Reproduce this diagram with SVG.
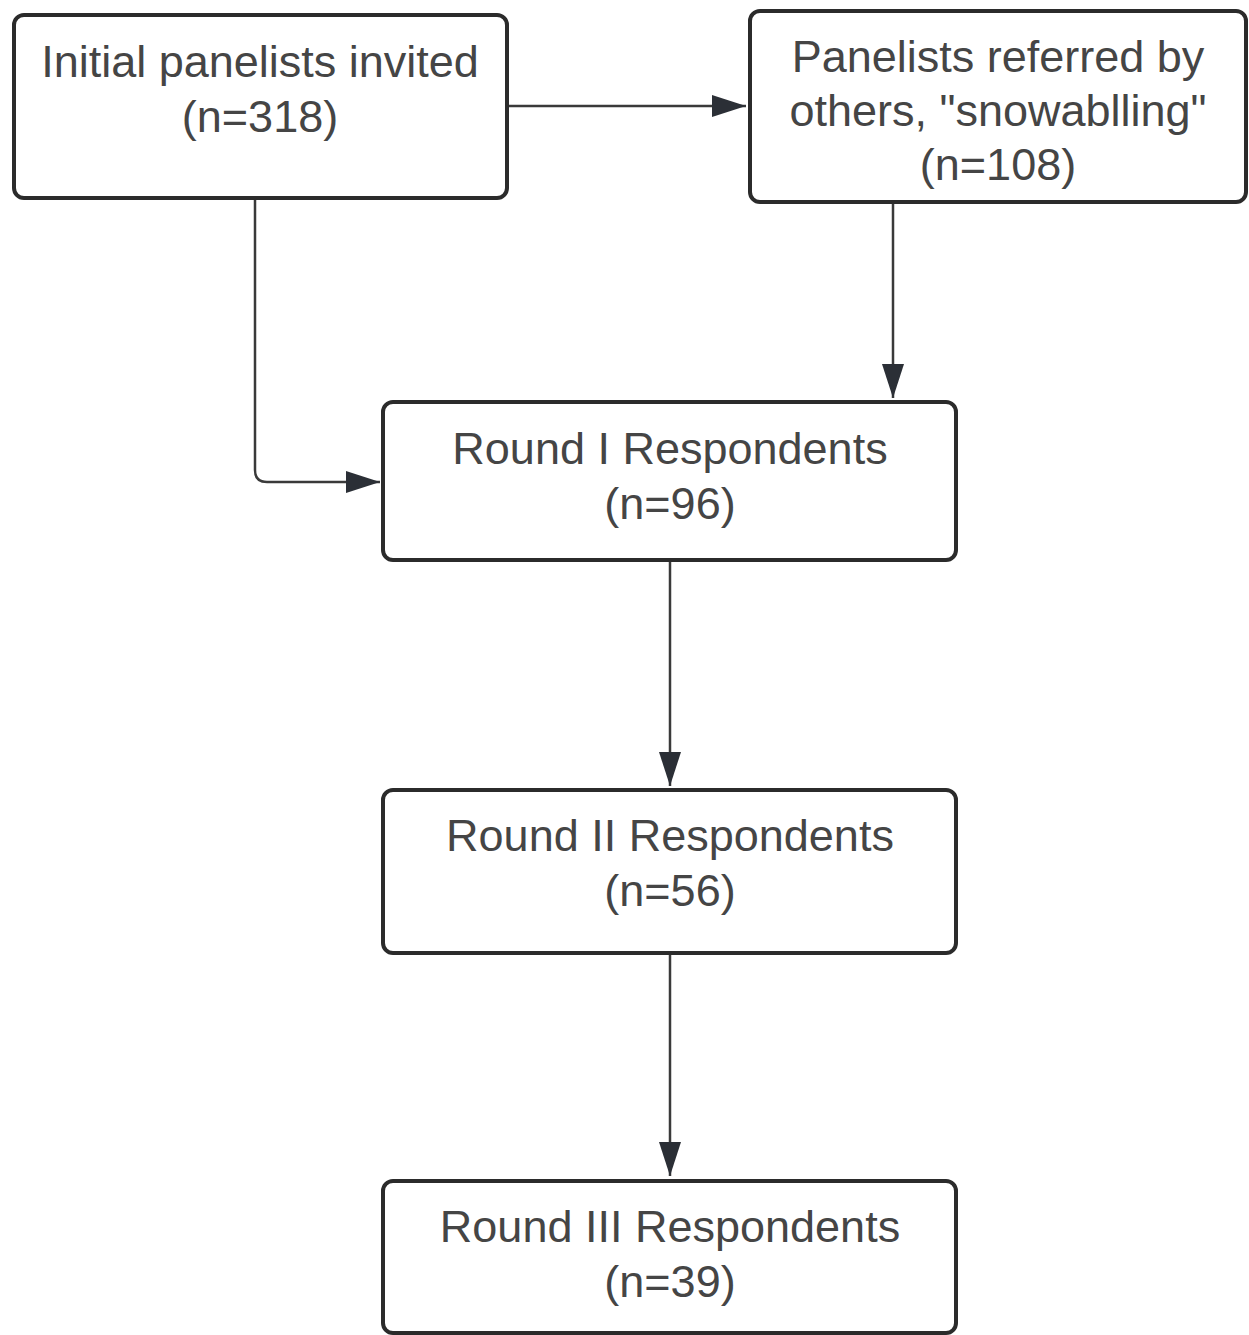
<svg xmlns="http://www.w3.org/2000/svg" width="1249" height="1335" viewBox="0 0 1249 1335">
<style>
.box{fill:#ffffff;stroke:#2b2b2b;stroke-width:4}
.t{font-family:"Liberation Sans",Arial,sans-serif;font-size:45px;fill:#454545;text-anchor:middle}
.c{fill:none;stroke:#3a3a3a;stroke-width:2.5}
</style>
<defs>
<marker id="ah" markerUnits="userSpaceOnUse" markerWidth="36" markerHeight="24" refX="34" refY="11" orient="auto">
<path d="M0,0 L34,11 L0,22 Z" fill="#2b2f36"/>
</marker>
</defs>
<rect width="1249" height="1335" fill="#ffffff"/>
<g id="connectors">
<path class="c" d="M509,106 H746" marker-end="url(#ah)"/>
<path class="c" d="M255,200 V470 Q255,482 267,482 H380" marker-end="url(#ah)"/>
<path class="c" d="M893,204 V398" marker-end="url(#ah)"/>
<path class="c" d="M670,562 V786" marker-end="url(#ah)"/>
<path class="c" d="M670,955 V1176" marker-end="url(#ah)"/>
</g>
<g id="n1">
<rect class="box" x="14" y="15" width="493" height="183" rx="10"/>
<text class="t" x="260" y="77">Initial panelists invited</text>
<text class="t" x="260" y="132">(n=318)</text>
</g>
<g id="n2">
<rect class="box" x="750" y="11" width="496" height="191" rx="10"/>
<text class="t" x="998" y="72">Panelists referred by</text>
<text class="t" x="998" y="126">others, "snowablling"</text>
<text class="t" x="998" y="180">(n=108)</text>
</g>
<g id="n3">
<rect class="box" x="383" y="402" width="573" height="158" rx="10"/>
<text class="t" x="670" y="464">Round I Respondents</text>
<text class="t" x="670" y="519">(n=96)</text>
</g>
<g id="n4">
<rect class="box" x="383" y="790" width="573" height="163" rx="10"/>
<text class="t" x="670" y="851">Round II Respondents</text>
<text class="t" x="670" y="906">(n=56)</text>
</g>
<g id="n5">
<rect class="box" x="383" y="1181" width="573" height="152" rx="10"/>
<text class="t" x="670" y="1242">Round III Respondents</text>
<text class="t" x="670" y="1297">(n=39)</text>
</g>
</svg>
